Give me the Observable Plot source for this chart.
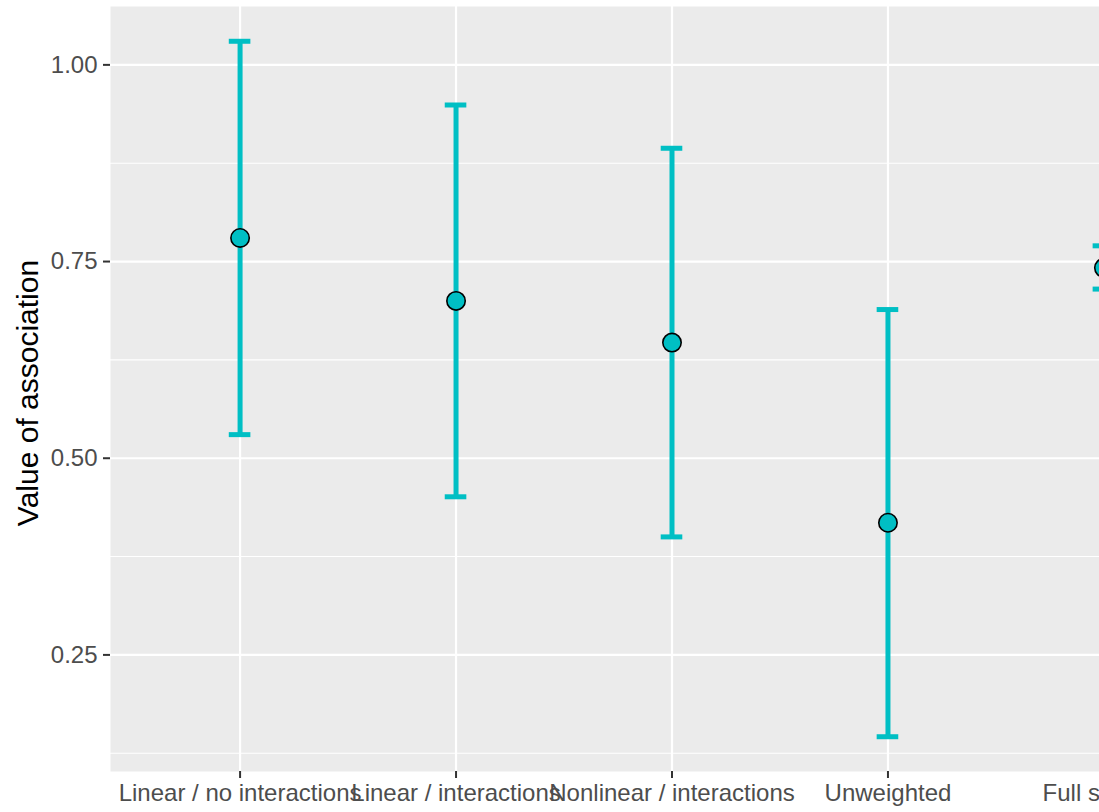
<!DOCTYPE html>
<html>
<head>
<meta charset="utf-8">
<script src="https://cdn.jsdelivr.net/npm/d3@7"></script>
<script src="https://cdn.jsdelivr.net/npm/@observablehq/plot@0.6"></script>
<style>
  html, body { margin: 0; padding: 0; background: #ffffff; overflow: hidden; }
  #wrap { width: 1099px; height: 812px; overflow: hidden; }
  #wrap svg { max-width: none !important; display: block; }
</style>
</head>
<body>
<div id="wrap"></div>
<script>
const categories = ["Linear / no interactions", "Linear / interactions", "Nonlinear / interactions", "Unweighted", "Full sample"];
const estimates = [0.780, 0.700, 0.647, 0.418, 0.742];
const lowers = [0.530, 0.451, 0.400, 0.146, 0.715];
const uppers = [1.030, 0.949, 0.894, 0.689, 0.770];
const yTicks = [0.25, 0.50, 0.75, 1.00];
const yMinorTicks = [0.125, 0.375, 0.625, 0.875];
const yLabel = "Value of association";

const data = categories.map((c, i) => ({i, c, est: estimates[i], lo: lowers[i], hi: uppers[i]}));

const capHalf = 0.05;
const lo = d3.min(lowers), hi = d3.max(uppers);
const pad = (hi - lo) * 0.05;

const teal = "#00BFC4";
const fs = 24;

const chart = Plot.plot({
  width: 1240,
  height: 812,
  marginLeft: 110,
  marginRight: 7,
  marginTop: 6,
  marginBottom: 41,
  style: {fontFamily: "'Liberation Sans', Arial, sans-serif", fontSize: fs + "px", background: "#ffffff", maxWidth: "none"},
  x: {type: "linear", domain: [-0.6, categories.length - 0.4], axis: null},
  y: {type: "linear", domain: [lo - pad, hi + pad], axis: null},
  marks: [
    Plot.frame({fill: "#EBEBEB", stroke: null}),
    Plot.gridY(yMinorTicks, {stroke: "#ffffff", strokeOpacity: 1, strokeWidth: 1.1}),
    Plot.gridY(yTicks, {stroke: "#ffffff", strokeOpacity: 1, strokeWidth: 2.2}),
    Plot.gridX(d3.range(categories.length), {stroke: "#ffffff", strokeOpacity: 1, strokeWidth: 2.2}),
    Plot.axisY({ticks: yTicks, tickFormat: d3.format(".2f"), tickSize: 7, tickPadding: 6, stroke: "#333333", strokeWidth: 2, fill: "#4D4D4D", fontSize: fs, label: null}),
    Plot.axisX({ticks: d3.range(categories.length), tickFormat: i => categories[i], tickSize: 7, tickPadding: 5, stroke: "#333333", strokeWidth: 2, fill: "#4D4D4D", fontSize: fs, label: null}),
    Plot.ruleX(data, {x: "i", y1: "lo", y2: "hi", stroke: teal, strokeWidth: 5}),
    Plot.ruleY(data, {y: "hi", x1: d => d.i - capHalf, x2: d => d.i + capHalf, stroke: teal, strokeWidth: 5}),
    Plot.ruleY(data, {y: "lo", x1: d => d.i - capHalf, x2: d => d.i + capHalf, stroke: teal, strokeWidth: 5}),
    Plot.dot(data, {x: "i", y: "est", r: 9.2, fill: teal, stroke: "#000000", strokeWidth: 1.6}),
    Plot.text([yLabel], {frameAnchor: "left", textAnchor: "middle", dx: -82, dy: 4, rotate: -90, fontSize: 30, fill: "#000000"})
  ]
});
document.getElementById("wrap").appendChild(chart);
</script>
</body>
</html>
